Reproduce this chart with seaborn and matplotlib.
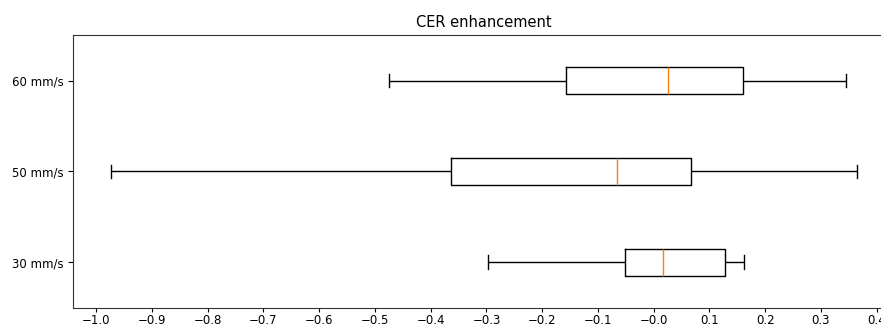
import matplotlib
matplotlib.use("Agg")
import matplotlib.pyplot as plt
import numpy as np
import pandas as pd
import seaborn as sns

# five-number summaries: whisker low, Q1, median, Q3, whisker high
speeds = ["60 mm/s", "50 mm/s", "30 mm/s"]
cer_60 = [-0.474, -0.157, 0.025, 0.161, 0.345]
cer_50 = [-0.974, -0.363, -0.066, 0.067, 0.364]
cer_30 = [-0.297, -0.052, 0.017, 0.127, 0.162]

xticks = np.round(np.arange(-1.0, 0.45, 0.1), 1)

df = pd.DataFrame({
    "speed": np.repeat(speeds, 5),
    "cer": cer_60 + cer_50 + cer_30,
})

plt.rcParams["font.family"] = ["DejaVu Sans"]

fig = plt.figure(figsize=(8.81, 3.29), dpi=100)
ax = fig.add_axes([0.0832, 0.0650, 0.9316, 0.828])

sns.boxplot(data=df, x="cer", y="speed", order=speeds, orient="h",
            width=0.3, fill=False, color="black", linewidth=1.0,
            medianprops={"color": "#ff7f0e", "linewidth": 1.0},
            whis=1.5, ax=ax)

ax.set_xlim(-1.041, 0.431)
ax.set_ylim(2.5, -0.5)
ax.set_xticks(xticks)
ax.set_xticklabels([f"{t:.1f}".replace("-", "\u2212") for t in xticks])
ax.tick_params(labelsize=8.5)
ax.tick_params(axis="x", pad=1.5, length=3)
ax.set_xlabel("")
ax.set_ylabel("")
ax.set_title("CER enhancement", fontsize=10.5)
for s in ax.spines.values():
    s.set_visible(True)
    s.set_color("#333333")

fig.savefig("out.png", dpi=100)
